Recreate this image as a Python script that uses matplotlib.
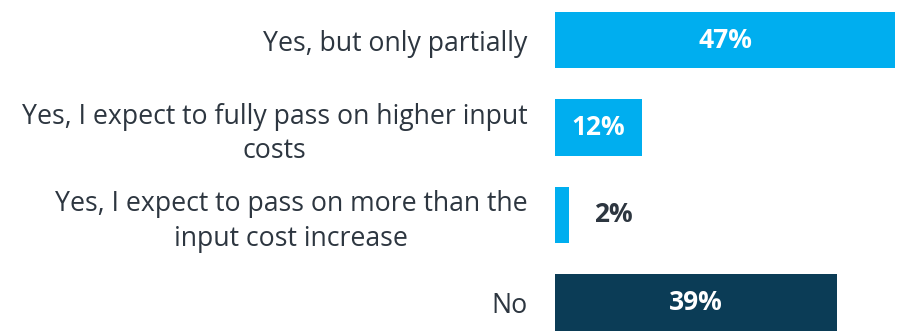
import matplotlib.pyplot as plt

# data
categories = [
    "Yes, but only partially",
    "Yes, I expect to fully pass on higher input\ncosts",
    "Yes, I expect to pass on more than the\ninput cost increase",
    "No",
]
values = [47, 12, 2, 39]
bar_colors = ["#00AEEF", "#00AEEF", "#00AEEF", "#0B3C56"]

text_color = "#2D3640"

fig = plt.figure(figsize=(8.97, 3.32), dpi=100)
W, H = 897, 332
ax = fig.add_axes([555 / W, 0, (895 - 555) / W, 1])

pos = list(range(len(values)))
ax.barh(pos, values, height=0.65, color=bar_colors)

# pixel mapping: first bar centre at 40 px, 87.5 px between bars
step = 87.5
ax.set_ylim((H - 40) / step, -40 / step)
ax.set_xlim(0, 47)

for y, v in zip(pos, values):
    if v >= 5:
        ax.text(v / 2, y, f"{v}%", ha="center", va="center", color="white",
                fontsize=19, fontweight="bold", family="Open Sans")
    else:
        ax.annotate(f"{v}%", (v, y), xytext=(18, 0), textcoords="offset points",
                    ha="left", va="center", color=text_color,
                    fontsize=19, fontweight="bold", family="Open Sans")

ax.set_yticks(pos)
ax.set_yticklabels(categories, fontsize=19.2, family="Open Sans", color=text_color,
                   multialignment="center", linespacing=1.3)
ax.tick_params(axis="y", length=0, pad=20)
ax.set_xticks([])
for s in ax.spines.values():
    s.set_visible(False)

fig.savefig("out.png", dpi=100)
